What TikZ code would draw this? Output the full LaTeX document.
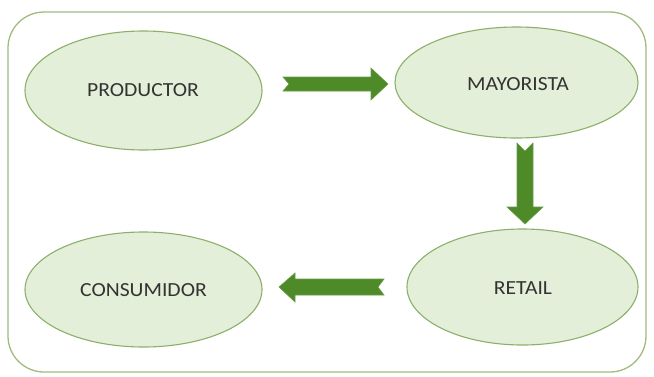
\documentclass[tikz,border=0pt]{standalone}
\usepackage{fontspec}
\setmainfont{Carlito}
\usetikzlibrary{shapes.geometric}
\definecolor{ellfill}{HTML}{E3EFD8}
\definecolor{elldraw}{HTML}{8CB06A}
\definecolor{framedraw}{HTML}{A2BC7E}
\definecolor{arrfill}{HTML}{4E8A28}
\definecolor{txt}{HTML}{333333}
\newcommand{\lbl}[1]{\scalebox{1.08}[1]{#1}}
\begin{document}
\begin{tikzpicture}[x=1pt,y=-1pt,
  ell/.style={ellipse,draw=elldraw,fill=ellfill,line width=1.1pt,inner sep=0pt},
  lbltext/.style={text=txt,font=\fontsize{20}{24}\selectfont,inner sep=0pt},
  blockarrow/.style={fill=arrfill,draw=arrfill!85!white,line width=0.6pt,line join=miter}]
\useasboundingbox (0,0) rectangle (654,376);
\fill[white] (0,0) rectangle (654,376);
\draw[framedraw,line width=1.3pt,rounded corners=36pt] (8,12) rectangle (646,372);
\node[ell,minimum width=237pt,minimum height=119pt] (prod) at (143.5,90.5) {};
\node[ell,minimum width=243pt,minimum height=111pt] (may) at (516.5,82.5) {};
\node[ell,minimum width=231pt,minimum height=116pt] (ret) at (522.5,287) {};
\node[ell,minimum width=237pt,minimum height=115pt] (cons) at (143.5,289.5) {};
\node[lbltext] (prodt) at (143,90.5) {\lbl{PRODUCTOR}};
\node[lbltext] (mayt) at (518,84.5) {\lbl{MAYORISTA}};
\node[lbltext] (rett) at (523,288.5) {\lbl{RETAIL}};
\node[lbltext] (const) at (143.5,290) {\lbl{CONSUMIDOR}};
% right arrow
\coordinate (a1) at (283,84);
\draw[blockarrow] (a1) ++(0,-7) -- ++(88,0) -- ++(0,-9) -- (388,84) -- (371,100) -- ++(0,-9) -- (283,91) -- (289,84) -- cycle;
% down arrow
\coordinate (a2) at (525,143);
\draw[blockarrow] (517,143) -- (525,151) -- (533,143) -- (533,207) -- (543,207) -- (525,224) -- (507,207) -- (517,207) -- cycle;
% left arrow
\coordinate (a3) at (384,287);
\draw[blockarrow] (384,279) -- (378,287) -- (384,295) -- (295,295) -- (295,302) -- (279,287) -- (295,273) -- (295,279) -- cycle;
\end{tikzpicture}
\end{document}
